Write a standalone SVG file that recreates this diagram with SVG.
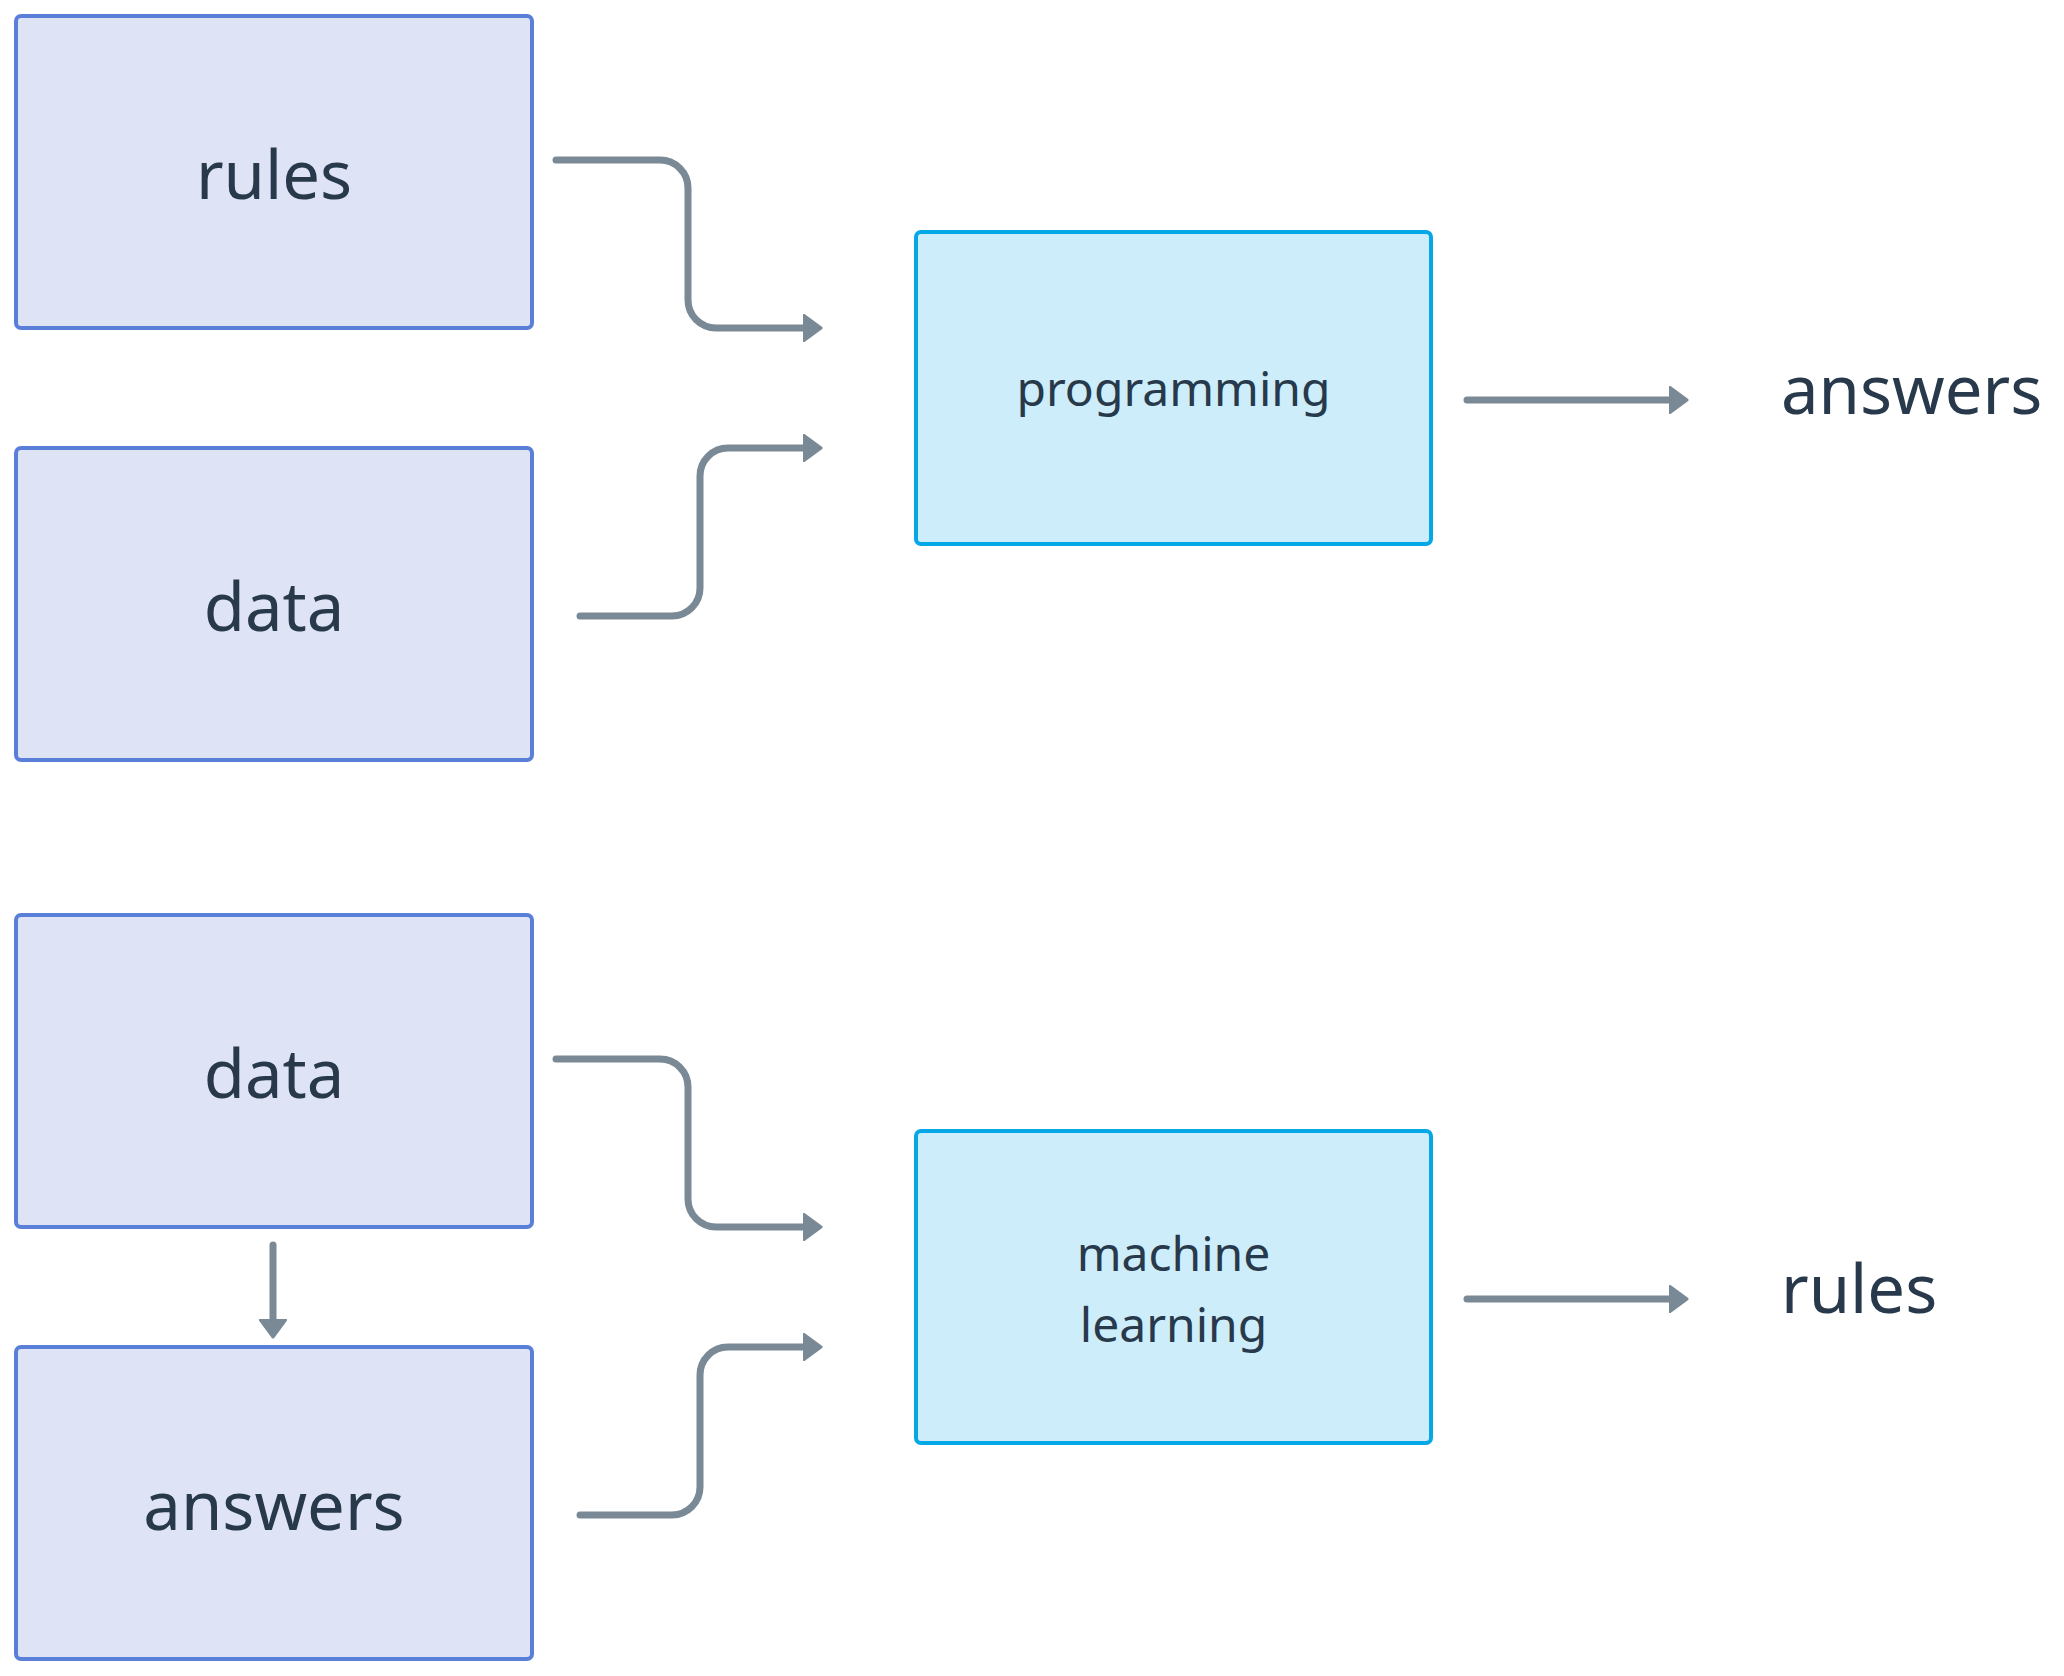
<svg xmlns="http://www.w3.org/2000/svg" width="2064" height="1676" viewBox="0 0 2064 1676">
<style>
.in rect{fill:#DEE4F6;stroke:#5A7FD8;stroke-width:4}
.pr rect{fill:#CCEDF9;stroke:#05A8E6;stroke-width:4}
text{font-family:"Noto Sans","Open Sans","DejaVu Sans",sans-serif;fill:#27394A;text-anchor:middle}
.big{font-size:67px}
.small{font-size:48px}
.out{text-anchor:start}
.conn path{fill:none;stroke:#7A8996;stroke-width:7;stroke-linecap:round;stroke-linejoin:round}
</style>
<defs>
<marker id="arr" viewBox="0 -16 22 32" refX="1" refY="0" markerWidth="22" markerHeight="32" markerUnits="userSpaceOnUse" orient="auto">
<path d="M1,-12.5 L18,0 L1,12.5 Z" fill="#7A8996" stroke="#7A8996" stroke-width="3" stroke-linejoin="round"/>
</marker>
</defs>
<rect width="2064" height="1676" fill="#FFFFFF"/>
<g id="rules-in" class="in"><rect x="16" y="16" width="516" height="312" rx="5"/><text class="big" x="274" y="199">rules</text></g>
<g id="data-in" class="in"><rect x="16" y="448" width="516" height="312" rx="5"/><text class="big" x="274" y="631">data</text></g>
<g id="programming" class="pr"><rect x="916" y="232" width="515" height="312" rx="5"/><text class="small" x="1173.5" y="406">programming</text></g>
<g id="answers-out"><text class="big out" x="1781" y="414">answers</text></g>
<g id="data-ml" class="in"><rect x="16" y="915" width="516" height="312" rx="5"/><text class="big" x="274" y="1098">data</text></g>
<g id="answers-ml" class="in"><rect x="16" y="1347" width="516" height="312" rx="5"/><text class="big" x="274" y="1530">answers</text></g>
<g id="machine-learning" class="pr"><rect x="916" y="1131" width="515" height="312" rx="5"/><text class="small" x="1173.5" y="1271">machine</text><text class="small" x="1173.5" y="1342">learning</text></g>
<g id="rules-out"><text class="big out" x="1781" y="1313">rules</text></g>
<g id="connectors" class="conn">
<path d="M556,160 H660 A28,28 0 0 1 688,188 V300 A28,28 0 0 0 716,328 H804" marker-end="url(#arr)"/>
<path d="M580,616 H672 A28,28 0 0 0 700,588 V476 A28,28 0 0 1 728,448 H804" marker-end="url(#arr)"/>
<path d="M1467,400 H1670" marker-end="url(#arr)"/>
<path d="M556,1059 H660 A28,28 0 0 1 688,1087 V1199 A28,28 0 0 0 716,1227 H804" marker-end="url(#arr)"/>
<path d="M580,1515 H672 A28,28 0 0 0 700,1487 V1375 A28,28 0 0 1 728,1347 H804" marker-end="url(#arr)"/>
<path d="M1467,1299 H1670" marker-end="url(#arr)"/>
<path d="M273,1245 V1320" marker-end="url(#arr)"/>
</g>
</svg>
